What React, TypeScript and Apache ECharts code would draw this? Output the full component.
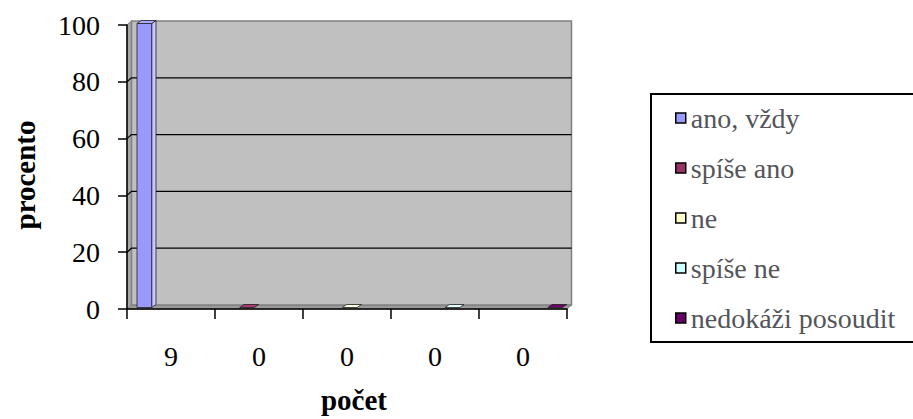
import React, { useEffect, useRef } from 'react';
import * as echarts from 'echarts';

const categories = ['9', '0', '0', '0', '0'];
const seriesNames = ['ano, vždy', 'spíše ano', 'ne', 'spíše ne', 'nedokáži posoudit'];
const seriesColors = ['#9999FF', '#993366', '#FFFFCC', '#CCFFFF', '#660066'];
const anoVzdy: (number | null)[] = [100, null, null, null, null];
const spiseAno: (number | null)[] = [null, 0, null, null, null];
const neValues: (number | null)[] = [null, null, 0, null, null];
const spiseNe: (number | null)[] = [null, null, null, 0, null];
const nedokazi: (number | null)[] = [null, null, null, null, 0];
const seriesValues = [anoVzdy, spiseAno, neValues, spiseNe, nedokazi];
const yTicks = [0, 20, 40, 60, 80, 100];

const FONT_BOLD = 'Liberation Serif';
const FONT_AXIS = 'Times New Roman';
const FONT_LEGEND = 'serif';
const DX = 4.5; // wall depth
const DY = -4;

export default function App() {
  const ref = useRef<HTMLDivElement>(null);
  useEffect(() => {
    if (!ref.current) return;
    const chart = echarts.init(ref.current, null, { renderer: 'svg' });

    const wallSeries: any = {
      type: 'custom',
      name: '__walls',
      silent: true,
      z: 1,
      data: [[0, 0]],
      renderItem: (params: any, api: any) => {
        const cs = params.coordSys;
        const L = cs.x, R = cs.x + cs.width, T = cs.y, B = cs.y + cs.height;
        const children: any[] = [
          {
            type: 'polygon',
            shape: { points: [[L, T], [L + DX, T + DY], [L + DX, B + DY], [L, B]] },
            style: { fill: '#a6a6a6', stroke: '#808080', lineWidth: 1 },
          },
          {
            type: 'polygon',
            shape: { points: [[L, B], [L + DX, B + DY], [R + DX, B + DY], [R, B]] },
            style: { fill: '#9a9a9a', stroke: '#808080', lineWidth: 1 },
          },
          {
            type: 'rect',
            shape: { x: L + DX, y: T + DY, width: R - L, height: B - T },
            style: { fill: '#c0c0c0', stroke: '#808080', lineWidth: 1.5 },
          },
        ];
        yTicks
          .filter((v) => v > yTicks[0] && v < yTicks[yTicks.length - 1])
          .forEach((v) => {
            const y = api.coord([0, v])[1];
            children.push({
              type: 'polyline',
              shape: { points: [[L, y], [L + DX, y + DY], [R + DX, y + DY]] },
              style: { fill: 'none', stroke: '#000', lineWidth: 1.2 },
            });
          });
        return { type: 'group', children };
      },
    };

    const barSeries = seriesNames.map((name, k) => {
      const color = seriesColors[k];
      const data: number[][] = [];
      seriesValues[k].forEach((v, i) => {
        if (v !== null && v !== undefined) data.push([i, v]);
      });
      return {
        type: 'custom',
        name,
        z: 2,
        itemStyle: { color },
        data,
        renderItem: (params: any, api: any) => {
          const cat = api.value(0);
          const v = api.value(1);
          const base = api.coord([cat, 0]);
          const topP = api.coord([cat, v]);
          const catW = api.size([1, 0])[0];
          const barW = catW * 0.167;
          const shiftY = -1.5;
          const x0 = base[0] - catW / 2 + catW * 0.1136 + k * barW;
          const yB = base[1] + shiftY;
          const yT = topP[1] + shiftY;
          const ddx = 4.3, ddy = -3;
          const side = echarts.color.lift(color, -0.3);
          const topC = echarts.color.lift(color, -0.12);
          const children: any[] = [];
          if (yB - yT > 0.5) {
            children.push({
              type: 'polygon',
              shape: { points: [[x0 + barW, yT], [x0 + barW + ddx, yT + ddy], [x0 + barW + ddx, yB + ddy], [x0 + barW, yB]] },
              style: { fill: side, stroke: '#222', lineWidth: 0.8 },
            });
            children.push({
              type: 'rect',
              shape: { x: x0, y: yT, width: barW, height: yB - yT },
              style: { fill: color, stroke: '#222', lineWidth: 0.8 },
            });
          }
          children.push({
            type: 'polygon',
            shape: { points: [[x0, yT], [x0 + ddx, yT + ddy], [x0 + barW + ddx, yT + ddy], [x0 + barW, yT]] },
            style: { fill: topC, stroke: '#222', lineWidth: 0.8 },
          });
          return { type: 'group', children };
        },
      };
    });

    chart.setOption({
      animation: false,
      backgroundColor: '#ffffff',
      grid: { left: 127, right: 346, top: 25, bottom: 108, containLabel: false },
      legend: {
        data: seriesNames,
        orient: 'vertical',
        left: 651,
        top: 94,
        icon: 'rect',
        itemWidth: 10,
        itemHeight: 10,
        itemGap: 22,
        padding: [10, 20, 10, 24],
        borderColor: '#000',
        borderWidth: 2,
        selectedMode: false,
        itemStyle: { borderColor: '#000', borderWidth: 1.5 },
        textStyle: { fontSize: 28, fontFamily: FONT_LEGEND },
      },
      xAxis: {
        type: 'category',
        data: categories,
        z: 3,
        name: 'počet',
        nameLocation: 'middle',
        nameGap: 76,
        nameTextStyle: { fontSize: 29, fontWeight: 'bold', fontFamily: FONT_BOLD, color: '#000', padding: [0, 0, 0, 14] },
        axisLine: { show: true, lineStyle: { color: '#000', width: 1.5 } },
        axisTick: { show: true, length: 10, lineStyle: { color: '#000', width: 1.5 } },
        axisLabel: { fontSize: 28, fontFamily: FONT_AXIS, color: '#000', margin: 33 },
        splitLine: { show: false },
      },
      yAxis: {
        type: 'value',
        min: 0,
        max: 100,
        interval: 20,
        z: 3,
        name: 'procento',
        nameLocation: 'middle',
        nameGap: 88,
        nameTextStyle: { fontSize: 29, fontWeight: 'bold', fontFamily: FONT_BOLD, color: '#000', padding: [0, 16, 0, 0] },
        axisLine: { show: true, lineStyle: { color: '#000', width: 1.5 } },
        axisTick: { show: true, length: 9, lineStyle: { color: '#000', width: 1.5 } },
        axisLabel: { fontSize: 28, fontFamily: FONT_AXIS, color: '#000', margin: 27 },
        splitLine: { show: false },
      },
      series: [wallSeries, ...barSeries],
    });
    return () => chart.dispose();
  }, []);
  return <div ref={ref} style={{ position: 'absolute', left: 0, top: 0, width: 913, height: 419 }} />;
}
